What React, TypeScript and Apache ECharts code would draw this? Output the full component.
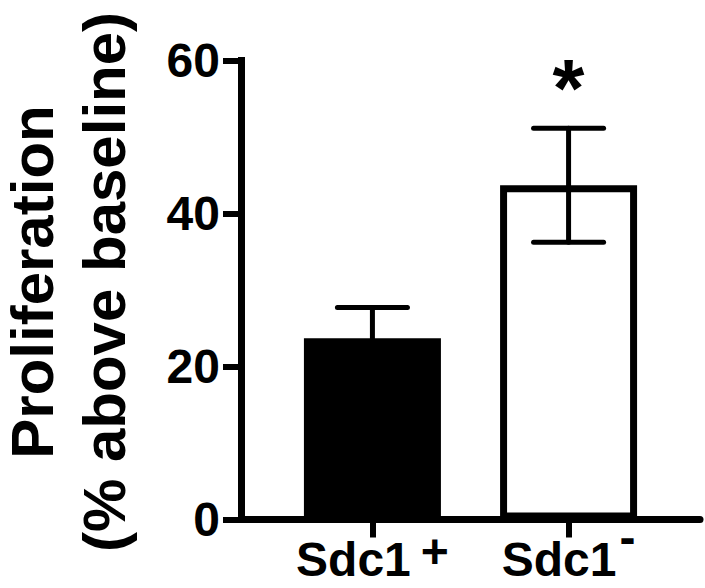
import React, { useEffect, useRef } from 'react';
import * as echarts from 'echarts';

const categories = ['Sdc1', 'Sdc1'];
const superscripts = ['+', '-'];
const means = [23.7, 43.7];
const errors = [4.0, 7.45];
const significance = ['', '*'];
const yTicks = [0, 20, 40, 60];
const yAxisTitle = ['Proliferation', '(% above baseline)'];

const FONT = '"Liberation Sans", Arial, Helvetica, sans-serif';
const barFills = ['#000000', '#ffffff'];
const supStyles = ['plus', 'minus'];

export default function App() {
  const ref = useRef<HTMLDivElement>(null);
  useEffect(() => {
    document.body.style.margin = '0';
    const chart = echarts.init(ref.current as HTMLDivElement, null, { renderer: 'svg' });
    const positions = categories.map((_, i) => i);
    chart.setOption({
      animation: false,
      backgroundColor: '#ffffff',
      grid: { left: 241, right: 5, top: 60.5, bottom: 68.5, containLabel: false, outerBoundsMode: 'none' },
      xAxis: {
        type: 'value',
        min: -0.67,
        max: 1.67,
        axisLine: { show: true, onZero: false, lineStyle: { color: '#000', width: 7 } },
        axisTick: { show: true, length: 18, customValues: positions, lineStyle: { color: '#000', width: 6 } },
        axisLabel: {
          customValues: positions,
          margin: 14,
          formatter: (v: number) => {
            const i = Math.round(v);
            return `{main|${categories[i]}}{${supStyles[i]}|${superscripts[i]}}`;
          },
          rich: {
            main: { fontSize: 48, fontWeight: 'bold', fontFamily: FONT, color: '#000', lineHeight: 52 },
            plus: { fontSize: 48, fontWeight: 'bold', fontFamily: FONT, color: '#000', lineHeight: 20, height: 35, verticalAlign: 'top', padding: [0, 0, 0, 10] },
            minus: { fontSize: 48, fontWeight: 'bold', fontFamily: FONT, color: '#000', lineHeight: 8, height: 8, verticalAlign: 'top', padding: [0, 0, 0, 3] },
          },
        },
        splitLine: { show: false },
      },
      yAxis: {
        type: 'value',
        min: yTicks[0],
        max: yTicks[yTicks.length - 1],
        interval: yTicks[1] - yTicks[0],
        name: yAxisTitle.join('\n'),
        nameLocation: 'middle',
        nameGap: 101,
        nameRotate: 90,
        nameTextStyle: {
          fontFamily: FONT,
          fontSize: 60,
          fontWeight: 'bold',
          color: '#000',
          lineHeight: 72,
          padding: [0, 0, 0, 16],
        },
        axisLine: { show: true, onZero: false, lineStyle: { color: '#000', width: 7, cap: 'square' } },
        axisTick: { show: true, length: 18, lineStyle: { color: '#000', width: 6 } },
        axisLabel: { margin: 21, fontSize: 48, fontWeight: 'bold', color: '#000', fontFamily: FONT },
        splitLine: { show: false },
      },
      series: [
        {
          type: 'bar',
          barWidth: 137,
          data: means.map((m, i) => ({ value: [i, m], itemStyle: { color: barFills[i] } })),
          itemStyle: { borderColor: '#000', borderWidth: 7 },
          z: 2,
        },
        {
          type: 'custom',
          z: 5,
          data: means.map((m, i) => [i, m - errors[i], m + errors[i]]),
          renderItem: (params: any, api: any) => {
            const x = api.value(0);
            const pLo = api.coord([x, api.value(1)]);
            const pHi = api.coord([x, api.value(2)]);
            const half = 35;
            const style = { stroke: '#000', lineWidth: 5, lineCap: 'round' };
            const children: any[] = [
              { type: 'line', shape: { x1: pHi[0], y1: pHi[1], x2: pLo[0], y2: pLo[1] }, style },
              { type: 'line', shape: { x1: pHi[0] - half, y1: pHi[1], x2: pHi[0] + half, y2: pHi[1] }, style },
              { type: 'line', shape: { x1: pLo[0] - half, y1: pLo[1], x2: pLo[0] + half, y2: pLo[1] }, style },
            ];
            const sig = significance[params.dataIndex];
            if (sig) {
              children.push({
                type: 'text',
                style: {
                  text: sig,
                  x: pHi[0],
                  y: pHi[1] - 41,
                  align: 'center',
                  verticalAlign: 'middle',
                  fontSize: 82,
                  fontWeight: 'bold',
                  fontFamily: FONT,
                  fill: '#000',
                },
              });
            }
            return { type: 'group', children };
          },
        },
      ],
    });
    return () => chart.dispose();
  }, []);
  return <div ref={ref} style={{ width: 705, height: 588 }} />;
}
